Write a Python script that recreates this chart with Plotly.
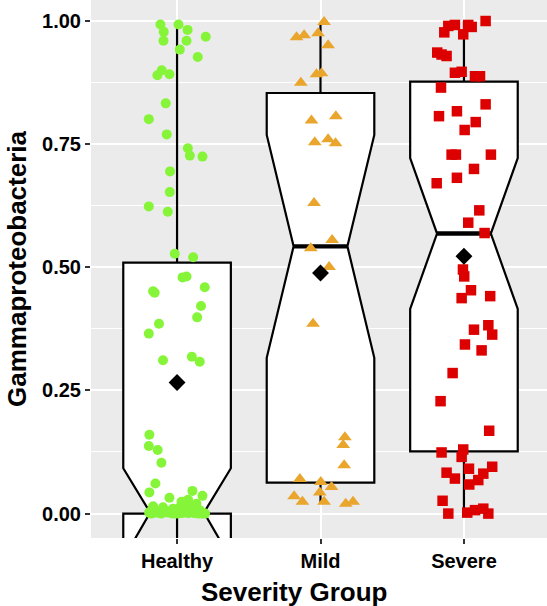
import plotly.graph_objects as go

# ---------------- data ----------------
categories = ["Healthy", "Mild", "Severe"]
cat_pos = [1, 2, 3]

healthy_y = [0.992, 0.992, 0.977, 0.981, 0.967, 0.959, 0.959, 0.941, 0.926, 0.899,
             0.889, 0.891, 0.832, 0.800, 0.769, 0.741, 0.726, 0.724, 0.694, 0.652,
             0.623, 0.612, 0.527, 0.520, 0.479, 0.481, 0.459, 0.451, 0.448, 0.421,
             0.398, 0.385, 0.365, 0.311, 0.318, 0.308, 0.160, 0.137, 0.129, 0.103,
             0.061, 0.043, 0.046, 0.036, 0.032, 0.024, 0.028, 0.020,
             0.015, 0.013, 0.010, 0.013, 0.010, 0.013, 0.007, 0.003, 0.003, 0.003,
             0.003, 0.003, 0.003, 0.003, 0.003, 0.001,
             0.000, 0.001, 0.002, 0.000, 0.004, 0.001, 0.000, 0.002, 0.005, 0.000,
             0.001, 0.003, 0.000, 0.002, 0.000, 0.004, 0.001, 0.000, 0.006, 0.002]
healthy_jit = [-0.116, 0.010, -0.093, 0.073, 0.200, -0.095, 0.066, 0.019, 0.144, -0.107,
               -0.137, -0.053, -0.079, -0.197, -0.072, 0.075, 0.089, 0.177, -0.049, -0.051,
               -0.197, -0.065, -0.016, 0.112, 0.038, 0.066, 0.193, -0.167, -0.156, 0.167,
               0.140, -0.126, -0.197, -0.098, 0.103, 0.158, -0.193, -0.197, -0.135, -0.109,
               -0.151, -0.193, 0.107, 0.177, -0.053, 0.031, 0.077, 0.135,
               -0.167, -0.098, -0.028, 0.019, 0.066, 0.112, 0.158, -0.190, -0.144, -0.098,
               -0.051, -0.004, 0.042, 0.089, 0.135, 0.181,
               -0.180, -0.120, -0.060, 0.000, 0.060, 0.120, 0.175, -0.150, -0.085, -0.030,
               0.030, 0.095, 0.150, -0.195, -0.110, 0.010, 0.080, 0.195, -0.040, 0.050]

mild_y = [0.997, 0.966, 0.970, 0.974, 0.950, 0.893, 0.891, 0.874, 0.797, 0.806,
          0.753, 0.759, 0.751, 0.630, 0.555, 0.538, 0.500, 0.385, 0.155, 0.139,
          0.098, 0.070, 0.064, 0.054, 0.035, 0.043, 0.024, 0.024, 0.020, 0.024]
mild_jit = [0.025, -0.167, -0.114, -0.017, 0.053, 0.007, -0.028, -0.137, -0.063, 0.107,
            -0.040, 0.053, 0.105, -0.045, 0.081, -0.068, 0.060, -0.052, 0.170, 0.158,
            0.165, -0.144, 0.002, 0.077, -0.184, -0.005, -0.126, 0.025, 0.176, 0.227]

severe_y = [0.999, 0.991, 0.989, 0.991, 0.987, 0.976, 0.972, 0.935, 0.931, 0.928,
            0.894, 0.896, 0.887, 0.887, 0.864, 0.830, 0.806, 0.816, 0.794, 0.778,
            0.728, 0.728, 0.728, 0.699, 0.681, 0.670, 0.615, 0.590, 0.569, 0.495,
            0.481, 0.453, 0.437, 0.441, 0.373, 0.382, 0.363, 0.343, 0.331, 0.285,
            0.228, 0.168, 0.124, 0.130, 0.115, 0.091, 0.095, 0.083, 0.081, 0.071,
            0.068, 0.059, 0.026, 0.000, 0.002, 0.007, 0.010, 0.000]
severe_jit = [0.151, -0.063, -0.109, 0.030, 0.054, -0.137, -0.005, -0.186, -0.156, -0.121,
              -0.063, -0.016, 0.077, 0.112, -0.160, 0.151, -0.174, -0.049, 0.082, 0.005,
              -0.086, -0.056, 0.188, 0.070, -0.049, -0.190, 0.107, 0.030, 0.144, -0.007,
              0.002, 0.049, -0.016, 0.183, 0.070, 0.170, 0.197, 0.007, 0.123, -0.079,
              -0.163, 0.176, -0.156, -0.005, -0.016, 0.035, 0.197, -0.121, 0.135, -0.063,
              0.100, 0.037, -0.149, -0.109, 0.023, 0.077, 0.135, 0.170]

# box statistics
box_q1 = [0.000, 0.063, 0.126]
box_median = [0.000, 0.542, 0.568]
box_q3 = [0.509, 0.853, 0.876]
box_low = [0.000, 0.020, 0.000]
box_high = [0.992, 0.995, 0.999]
box_notch = [0.092, 0.226, 0.153]
group_means = [0.266, 0.488, 0.522]

y_ticks = [0.0, 0.25, 0.5, 0.75, 1.0]
y_minor = [0.125, 0.375, 0.625, 0.875]

# ---------------- styling ----------------
FONT = "Liberation Sans"
BOX_W = 0.75
groups = [
    (healthy_y, healthy_jit, "#86F53A", "circle", 10),
    (mild_y, mild_jit, "#E9A52C", "triangle-up", 12),
    (severe_y, severe_jit, "#DD0000", "square", 10.5),
]

fig = go.Figure()

fig.add_trace(go.Box(
    x=cat_pos, q1=box_q1, median=box_median, q3=box_q3,
    lowerfence=box_low, upperfence=box_high, notchspan=box_notch,
    notched=True, notchwidth=0.25, width=BOX_W,
    fillcolor="white", line=dict(color="black", width=2.2),
    whiskerwidth=0, boxpoints=False, showlegend=False, hoverinfo="skip",
))

# thicker median segments (ggplot's fattened middle line)
mx, my = [], []
for p, m in zip(cat_pos, box_median):
    mx += [p - BOX_W / 4, p + BOX_W / 4, None]
    my += [m, m, None]
fig.add_trace(go.Scatter(x=mx, y=my, mode="lines",
                         line=dict(color="black", width=4.3),
                         showlegend=False, hoverinfo="skip"))

for p, (ys, js, col, sym, sz) in zip(cat_pos, groups):
    fig.add_trace(go.Scatter(
        x=[p + j for j in js], y=ys, mode="markers",
        marker=dict(color=col, symbol=sym, size=sz, line=dict(width=0)),
        showlegend=False,
    ))

fig.add_trace(go.Scatter(
    x=cat_pos, y=group_means, mode="markers",
    marker=dict(color="black", symbol="diamond", size=13, line=dict(width=0)),
    showlegend=False,
))

L, B = 91, 68
W, H = 547, 606
plot_w = W - L
plot_h = H - B

fig.update_layout(
    width=W, height=H,
    margin=dict(l=L, r=0, t=0, b=B, pad=0),
    paper_bgcolor="white", plot_bgcolor="#EBEBEB",
    font=dict(family=FONT, color="black"),
    xaxis=dict(
        range=[0.4, 3.579], tickmode="array", tickvals=cat_pos, ticktext=categories,
        showgrid=True, gridcolor="white", gridwidth=2, zeroline=False,
        ticks="outside", ticklen=5, tickwidth=1.5, tickcolor="#333333",
        tickfont=dict(family=FONT, size=20, color="black", weight="bold"),
        showline=False,
    ),
    yaxis=dict(
        range=[-0.0495, 1.0416], tickmode="array", tickvals=y_ticks,
        tickformat=".2f",
        showgrid=True, gridcolor="white", gridwidth=2, zeroline=False,
        ticks="outside", ticklen=5, tickwidth=1.5, tickcolor="#333333",
        tickfont=dict(family=FONT, size=20, color="black", weight="bold"),
        minor=dict(tickmode="array", tickvals=y_minor, showgrid=True,
                   gridcolor="white", gridwidth=1, ticks=""),
        showline=False,
    ),
    annotations=[
        dict(text="Severity Group", xref="paper", yref="paper",
             x=(294 - L) / plot_w, y=-(591.5 - plot_h) / plot_h,
             xanchor="center", yanchor="middle", showarrow=False,
             font=dict(family=FONT, size=26, color="black", weight="bold")),
        dict(text="Gammaproteobacteria", xref="paper", yref="paper",
             x=(17 - L) / plot_w, y=0.5, textangle=-90,
             xanchor="center", yanchor="middle", showarrow=False,
             font=dict(family=FONT, size=26, color="black", weight="bold")),
    ],
)

fig.write_html("out.html")
